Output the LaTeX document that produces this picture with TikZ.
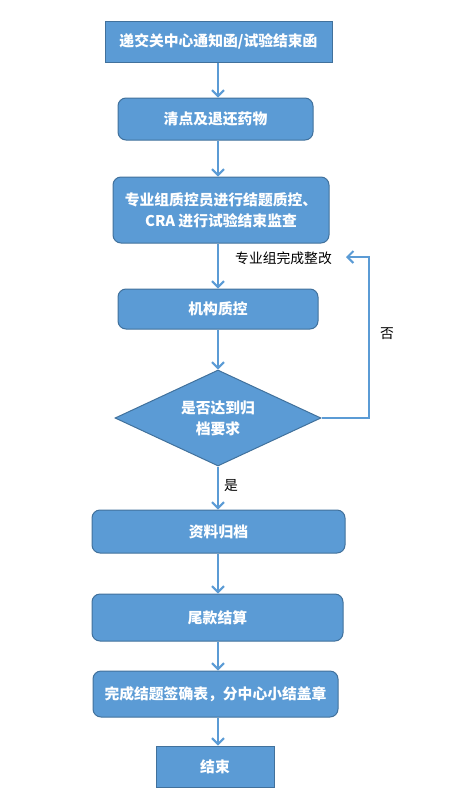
\documentclass[tikz,border=0pt]{standalone}
\usepackage{fontspec}
\setmainfont{Noto Sans CJK SC}
\usetikzlibrary{shapes.geometric,arrows.meta}
\definecolor{boxblue}{HTML}{5B9BD5}
\definecolor{edgeblue}{HTML}{41719C}
\tikzset{
	box/.style={draw=edgeblue, fill=boxblue, line width=1pt, text=white,
		font=\bfseries\fontsize{14.8}{21}\selectfont, align=center, inner sep=0pt},
	rbox/.style={box, rounded corners=8pt},
	arr/.style={draw=boxblue, line width=2pt, -{Straight Barb[length=6pt,width=12pt]}},
	lbl/.style={font=\fontsize{13.8}{16}\selectfont, inner sep=0pt}
}
\begin{document}
\begin{tikzpicture}[x=1pt,y=-1pt]
		\useasboundingbox (0,0) rectangle (451,809);
		% boxes, top to bottom
		\node[box, minimum width=227pt, minimum height=41pt] (notice) at (218.5,41.5) {递交关中心通知函/试验结束函};
		\node[rbox, minimum width=195pt, minimum height=42pt] (drugs) at (215.5,119) {清点及退还药物};
		\node[rbox, minimum width=216pt, minimum height=66pt] (qc) at (221,210) {专业组质控员进行结题质控、\\CRA 进行试验结束监查};
		\node[rbox, minimum width=200pt, minimum height=40pt] (inst) at (218,309) {机构质控};
		\node[box, diamond, aspect=2.15, minimum width=206pt, minimum height=96pt] (check) at (218,418) {是否达到归\\档要求};
		\node[rbox, minimum width=253pt, minimum height=43pt] (archive) at (218.5,531.5) {资料归档};
		\node[rbox, minimum width=251pt, minimum height=47pt] (payment) at (217.5,617.5) {尾款结算};
		\node[rbox, minimum width=245pt, minimum height=46pt] (signoff) at (215.5,694) {完成结题签确表，分中心小结盖章};
		\node[box, minimum width=118pt, minimum height=41pt] (finish) at (215,766.5) {结束};
		% labels
		\node[lbl, anchor=east] (fix) at (332,258) {专业组完成整改};
		\node[lbl] (no) at (387,334) {否};
		\node[lbl] (yes) at (231,486) {是};
		\coordinate (turn) at (369,257);
		% arrows
		\draw[arr] (notice.south -| check) -- (drugs.north -| check);
		\draw[arr] (drugs.south -| check) -- (qc.north -| check);
		\draw[arr] (qc.south -| check) -- (inst.north -| check);
		\draw[arr] (inst.south -| check) -- (check.north);
		\draw[arr] (check.south) -- (archive.north -| check);
		\draw[arr] (archive.south -| check) -- (payment.north -| check);
		\draw[arr] (payment.south -| check) -- (signoff.north -| check);
		\draw[arr] (signoff.south -| check) -- (finish.north -| check);
		\draw[arr] (check.east) -| (turn) -- ([xshift=14pt]fix.east |- turn);
	\end{tikzpicture}
\end{document}
